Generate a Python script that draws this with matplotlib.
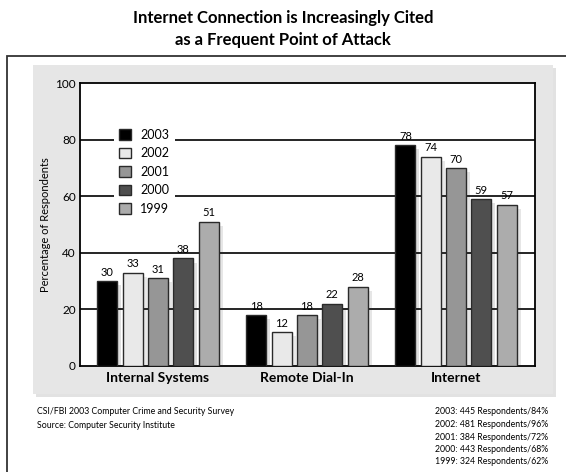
import matplotlib
matplotlib.use("Agg")
import matplotlib.pyplot as plt
import matplotlib.patheffects as pe
from matplotlib.patches import Rectangle, Patch
import numpy as np

# survey data
categories = ["Internal Systems", "Remote Dial-In", "Internet"]
years = ["2003", "2002", "2001", "2000", "1999"]
values = {
    "2003": [30, 18, 78],
    "2002": [33, 12, 74],
    "2001": [31, 18, 70],
    "2000": [38, 22, 59],
    "1999": [51, 28, 57],
}
colors = {
    "2003": "#000000",
    "2002": "#e9e9e9",
    "2001": "#969696",
    "2000": "#4f4f4f",
    "1999": "#acacac",
}
respondents = [
    "2003: 445 Respondents/84%",
    "2002: 481 Respondents/96%",
    "2001: 384 Respondents/72%",
    "2000: 443 Respondents/68%",
    "1999: 324 Respondents/62%",
]
yticks = [0, 20, 40, 60, 80, 100]

plt.rcParams['font.family'] = ['Lato', 'DejaVu Sans']

W, H = 566, 472
fig = plt.figure(figsize=(W / 100, H / 100), dpi=100)

def fx(px):
    return px / W

def fy(py):
    return 1 - py / H

# outer frame and grey panel behind the axes
fig.patches.append(Rectangle((fx(7), fy(480)), fx(570) - fx(7), fy(56) - fy(480),
                             transform=fig.transFigure, fill=False, zorder=-2,
                             edgecolor="#333333", linewidth=1.3))
panel = Rectangle((fx(33), fy(394)), fx(553) - fx(33), fy(65) - fy(394),
                  transform=fig.transFigure, facecolor="#e6e6e6", edgecolor="none", zorder=-1,
                  path_effects=[pe.SimplePatchShadow(offset=(2, -2), shadow_rgbFace="#cfcfcf", alpha=0.6),
                                pe.Normal()])
fig.patches.append(panel)

fig.text(0.5, fy(29), "Internet Connection is Increasingly Cited\nas a Frequent Point of Attack",
         ha="center", va="center", fontsize=12, fontweight="bold", linespacing=1.45)

ax = fig.add_axes([fx(80), fy(366), fx(535) - fx(80), fy(83) - fy(366)])
ax.set_facecolor("white")

step = 0.17
width = 0.134
x = np.arange(len(categories))
for i, yr in enumerate(years):
    pos = x + (i - 2) * step
    bars = ax.bar(pos, values[yr], width, color=colors[yr], edgecolor="#2a2a2a",
                  linewidth=1.0, zorder=3, label=yr)
    for b in bars:
        b.set_path_effects([pe.SimplePatchShadow(offset=(3, -3), alpha=0.12), pe.Normal()])
    for p, v in zip(pos, values[yr]):
        ax.text(p, v + 1.2, str(v), ha="center", va="bottom", fontsize=8, zorder=4)

ax.set_xlim(-0.523, 2.53)
ax.set_ylim(0, 100)
ax.set_yticks(yticks)
ax.set_yticklabels([str(t) for t in yticks], fontsize=8.5)
ax.tick_params(axis="y", length=0, pad=3)
ax.set_xticks(x)
ax.set_xticklabels(categories, fontsize=10, fontweight="bold")
ax.tick_params(axis="x", length=0, pad=4)
for t in yticks[1:-1]:
    ax.axhline(t, color="black", linewidth=1.2, zorder=1)
for s in ax.spines.values():
    s.set_linewidth(1.3)
    s.set_color("black")
ax.set_ylabel("Percentage of Respondents", fontsize=8, labelpad=3)

handles = [Patch(facecolor=colors[yr], edgecolor="#2a2a2a", label=yr) for yr in years]
leg = ax.legend(handles=handles, loc="upper left", bbox_to_anchor=(0.06, 0.88),
                frameon=True, facecolor="white", edgecolor="none", framealpha=1,
                fontsize=9, handlelength=0.95, handleheight=0.95, handletextpad=0.75,
                labelspacing=0.52, borderpad=0.45)
leg.set_zorder(5)

fig.text(fx(37), fy(412), "CSI/FBI 2003 Computer Crime and Security Survey",
         fontsize=6.3, va="center", ha="left")
fig.text(fx(37), fy(425), "Source: Computer Security Institute",
         fontsize=6.3, va="center", ha="left")
for k, line in enumerate(respondents):
    fig.text(fx(548), fy(412 + k * 12.5), line, fontsize=6.3, va="center", ha="right")

fig.savefig("out.png", dpi=100)
